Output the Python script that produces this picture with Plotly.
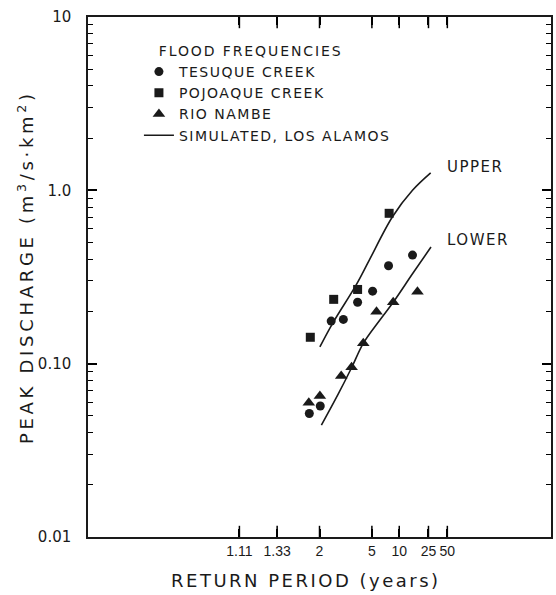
import math
import plotly.graph_objects as go
from statistics import NormalDist

# ---------------- data (return period in years, peak discharge m3/s/km2) ----------------
tesuque_T = [1.77, 2.02, 2.35, 2.85, 3.70, 5.08, 7.48, 14.8]
tesuque_Q = [0.0516, 0.057, 0.176, 0.180, 0.226, 0.262, 0.367, 0.423]

pojoaque_T = [1.79, 2.44, 3.70, 7.6]
pojoaque_Q = [0.142, 0.235, 0.268, 0.737]

nambe_T = [1.76, 2.01, 2.75, 3.30, 4.15, 5.56, 8.46, 17.3]
nambe_Q = [0.0595, 0.065, 0.0848, 0.0953, 0.131, 0.1995, 0.226, 0.260]

upper_T = [2.01, 2.40, 3.59, 4.72, 8.3, 14.8, 27.0]
upper_Q = [0.125, 0.171, 0.284, 0.396, 0.704, 1.0, 1.26]

lower_T = [2.05, 2.6, 3.29, 4.15, 6.0, 8.46, 14.8, 27.3]
lower_Q = [0.0442, 0.066, 0.0944, 0.131, 0.178, 0.226, 0.33, 0.471]

x_tick_T = [1.11, 1.33, 2, 5, 10, 25, 50]
x_tick_text = ["1.11", "1.33", "2", "5", "10", "25", "50"]
y_tick_vals = [0.01, 0.1, 1, 10]
y_tick_text = ["0.01", "0.10", "1.0", "10"]
p_range = [0.0001, 0.9999]
y_range_log = [-2, 1]

x_title = "RETURN PERIOD (years)"
y_title = "PEAK DISCHARGE (m<sup>3</sup>/s\u00b7km<sup>2</sup>)"

# normal-probability scale for return period
ND = NormalDist()


def z(T):
    return ND.inv_cdf(1.0 - 1.0 / T)


def zs(Ts):
    return [z(t) for t in Ts]


INK = "#1a1a1a"
FONT = "DejaVu Sans"


def sp(txt, ls=1.5):
    return '<span style="letter-spacing:%spx">%s</span>' % (ls, txt)


fig = go.Figure()

fig.add_trace(go.Scatter(x=zs(tesuque_T), y=tesuque_Q, mode="markers", name=sp("TESUQUE CREEK"),
                         marker=dict(symbol="circle", size=9, color=INK)))
fig.add_trace(go.Scatter(x=zs(pojoaque_T), y=pojoaque_Q, mode="markers", name=sp("POJOAQUE CREEK"),
                         marker=dict(symbol="square", size=9, color=INK)))
fig.add_trace(go.Scatter(x=zs(nambe_T), y=nambe_Q, mode="markers", name=sp("RIO NAMBE"),
                         marker=dict(symbol="triangle-up", size=11, color=INK)))
fig.add_trace(go.Scatter(x=zs(upper_T), y=upper_Q, mode="lines", name=sp("SIMULATED, LOS ALAMOS"),
                         line=dict(color=INK, width=1.6, shape="spline", smoothing=1.0),
                         legendgroup="sim"))
fig.add_trace(go.Scatter(x=zs(lower_T), y=lower_Q, mode="lines", name="lower", showlegend=False,
                         line=dict(color=INK, width=1.6, shape="spline", smoothing=1.0),
                         legendgroup="sim"))

minor_vals = []
for d in [0.01, 0.1, 1]:
    for k in range(2, 10):
        minor_vals.append(round(d * k, 4))

# inward tick marks on the bottom and top frame at the return-period ticks
# (half-clipped vertical line markers sitting on the frame)
tick_x = zs(x_tick_T) * 2
tick_y = [10 ** y_range_log[0]] * len(x_tick_T) + [10 ** y_range_log[1]] * len(x_tick_T)
fig.add_trace(go.Scatter(x=tick_x, y=tick_y, mode="markers", showlegend=False, hoverinfo="skip",
                         cliponaxis=True,
                         marker=dict(symbol="line-ns", size=16, color="black",
                                     line=dict(width=1.5, color="black"))))

fig.add_annotation(x=z(upper_T[-1]), y=math.log10(upper_Q[-1]), xref="x", yref="y",
                   text=sp("UPPER"), showarrow=False, xanchor="left", yanchor="middle",
                   xshift=14, yshift=6, font=dict(family=FONT, size=15, color=INK))
fig.add_annotation(x=z(lower_T[-1]), y=math.log10(lower_Q[-1]), xref="x", yref="y",
                   text=sp("LOWER"), showarrow=False, xanchor="left", yanchor="middle",
                   xshift=14, yshift=7, font=dict(family=FONT, size=15, color=INK))

# axis titles (letter-spaced, as in the lettering of the original)
fig.add_annotation(x=0.471, y=-0.083, xref="paper", yref="paper", text=sp(x_title, 2.5),
                   showarrow=False, xanchor="center", yanchor="middle",
                   font=dict(family=FONT, size=18, color=INK))
fig.add_annotation(x=-0.135, y=0.52, xref="paper", yref="paper", text=sp(y_title, 3.7),
                   showarrow=False, xanchor="center", yanchor="middle", textangle=-90,
                   font=dict(family=FONT, size=18, color=INK))

fig.update_layout(
    width=556, height=595,
    margin=dict(l=88, r=3, t=17, b=58),
    paper_bgcolor="white", plot_bgcolor="white",
    font=dict(family=FONT, size=15, color=INK),
    showlegend=True,
    legend=dict(
        x=0.11, y=0.96, xanchor="left", yanchor="top",
        bgcolor="rgba(0,0,0,0)", borderwidth=0,
        title=dict(text="\u00a0\u00a0\u00a0\u00a0" + sp("FLOOD FREQUENCIES", 1.9), font=dict(family=FONT, size=14, color=INK)),
        font=dict(family=FONT, size=14, color=INK),
        itemwidth=30, tracegroupgap=0,
    ),
    xaxis=dict(
        range=[z(1.0 / (1 - p_range[0])), z(1.0 / (1 - p_range[1]))],
        tickmode="array", tickvals=zs(x_tick_T), ticktext=x_tick_text, tickangle=0,
        ticks="inside", ticklen=8, tickwidth=1.5, tickcolor="black",
        showline=True, linecolor=INK, linewidth=1.5, mirror="ticks",
        showgrid=False, zeroline=False,
        tickfont=dict(family="Liberation Sans", size=14, color=INK),
    ),
    yaxis=dict(
        type="log", range=y_range_log,
        tickmode="array", tickvals=y_tick_vals, ticktext=y_tick_text,
        ticks="inside", ticklen=9, tickwidth=1.5, tickcolor="black",
        minor=dict(tickmode="array", tickvals=minor_vals, ticks="inside", ticklen=5,
                   tickwidth=1.2, tickcolor="black", showgrid=False),
        showline=True, linecolor=INK, linewidth=1.5, mirror="ticks",
        showgrid=False, zeroline=False, ticklabelstandoff=12,
        tickfont=dict(family=FONT, size=15, color=INK),
    ),
)

fig.write_html("out.html")
